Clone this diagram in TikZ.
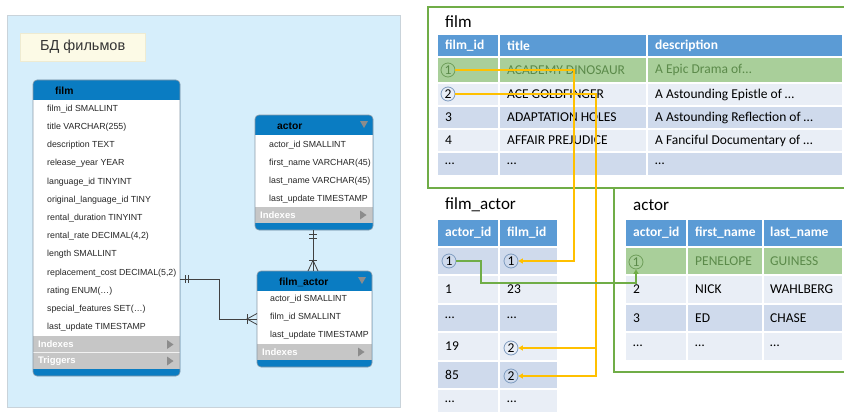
\documentclass[tikz,border=0pt]{standalone}
\usepackage{fontspec}
\setmainfont{Liberation Sans}
\newfontfamily\calfont{Carlito}
\usetikzlibrary{arrows.meta}
\definecolor{panelbg}{HTML}{D6EEFB}
\definecolor{panelline}{HTML}{C9D3DA}
\definecolor{cream}{HTML}{FCFAE6}
\definecolor{creamline}{HTML}{EEEBD2}
\definecolor{wbblue}{HTML}{0A7CC2}
\definecolor{wbgray}{HTML}{C6C6C6}
\definecolor{wbedge}{HTML}{8A9AA8}
\definecolor{tri}{HTML}{8C8C8C}
\definecolor{frameg}{HTML}{70AD47}
\definecolor{hdrblue}{HTML}{5B9BD5}
\definecolor{rowdark}{HTML}{CFDAEC}
\definecolor{rowlight}{HTML}{E9EEF6}
\definecolor{rowgreen}{HTML}{A9CF9A}
\definecolor{txtgreen}{HTML}{5B8A4A}
\definecolor{ygold}{HTML}{FFC000}
\definecolor{circblue}{HTML}{7F9CC0}
\definecolor{circgreen}{HTML}{6E9E5A}
\begin{document}
\begin{tikzpicture}[x=1pt,y=-1pt,
 wbtxt/.style={anchor=west,inner sep=0pt,font=\fontsize{8.8}{10}\selectfont,text=black!85},
 wbhdr/.style={anchor=west,inner sep=0pt,font=\bfseries\fontsize{10.3}{12}\selectfont,text=black},
 wbidx/.style={anchor=west,inner sep=0pt,font=\bfseries\fontsize{9.5}{11}\selectfont,text=white},
 rtxt/.style={anchor=west,inner sep=0pt,font=\calfont\fontsize{13.5}{16}\selectfont,text=black},
 rgtxt/.style={rtxt,text=txtgreen},
 rhdr/.style={anchor=west,inner sep=0pt,font=\calfont\bfseries\fontsize{13.5}{16}\selectfont,text=white},
 rtitle/.style={anchor=west,inner sep=0pt,font=\calfont\fontsize{17}{20}\selectfont},
 circnum/.style={circle,draw=circblue,line width=0.8pt,inner sep=0pt,minimum size=14pt,font=\calfont\fontsize{13.5}{14}\selectfont},
 circg/.style={circnum,draw=circgreen,text=txtgreen},
 yline/.style={draw=ygold,line width=1.1pt},
 gline/.style={draw=frameg,line width=1.3pt},
 tipy/.style={-{Triangle[length=4.5pt,width=5pt]}},
 crow/.style={draw=black!75,line width=0.8pt},
 sep/.style={draw=white,line width=1.5pt},
 frame/.style={draw=frameg,line width=2pt}]
\useasboundingbox (0,0) rectangle (844,412);
\fill[white] (0,0) rectangle (844,412);

% ---------------- left panel ----------------
\node[draw=panelline,fill=panelbg,line width=0.8pt,minimum width=393pt,minimum height=392pt,anchor=north west,inner sep=0pt] (panel) at (7,15) {};
\node[draw=creamline,fill=cream,minimum width=125pt,minimum height=28pt,anchor=north west,inner sep=0pt,font=\fontsize{14.5}{16}\selectfont,text=black!80] (dbtitle) at (20,33) {БД фильмов};

% film table
\fill[wbblue,rounded corners=4pt] (33,80) rectangle (180,376);
\fill[white] (33,100) rectangle (180,336);
\fill[wbgray] (33,336) rectangle (180,369);
\draw[white!75!wbgray] (33,352.5) -- (180,352.5);
\draw[wbedge,line width=0.6pt,rounded corners=4pt] (33,80) rectangle (180,376);
\node[wbhdr] (filmH) at (55,90.5) {film};
\foreach \t [count=\i] in {{film\_id SMALLINT}, {title VARCHAR(255)}, {description TEXT}, {release\_year YEAR}, {language\_id TINYINT}, {original\_language\_id TINY}, {rental\_duration TINYINT}, {rental\_rate DECIMAL(4,2)}, {length SMALLINT}, {replacement\_cost DECIMAL(5,2)}, {rating ENUM(\ldots)}, {special\_features SET(\ldots)}, {last\_update TIMESTAMP}}
  \node[wbtxt] (f\i) at (47,{109+18.2*(\i-1)}) {\t};
\node[wbidx] (filmIdx) at (38,344.5) {Indexes};
\node[wbidx] (filmTrg) at (38,361) {Triggers};
\fill[tri] (167,340) -- (173.5,344.5) -- (167,349) -- cycle;
\fill[tri] (167,356.5) -- (173.5,361) -- (167,365.5) -- cycle;

% actor table
\fill[wbblue,rounded corners=4pt] (255,115) rectangle (373,230);
\fill[white] (255,135) rectangle (373,207);
\fill[wbgray] (255,207) rectangle (373,223);
\draw[wbedge,line width=0.6pt,rounded corners=4pt] (255,115) rectangle (373,230);
\node[wbhdr] (actorH) at (277,126) {actor};
\fill[tri] (360,121) -- (368,121) -- (364,128) -- cycle;
\foreach \t [count=\i] in {{actor\_id SMALLINT}, {first\_name VARCHAR(45)}, {last\_name VARCHAR(45)}, {last\_update TIMESTAMP}}
  \node[wbtxt] (a\i) at (269,{145+18*(\i-1)}) {\t};
\node[wbidx] (actorIdx) at (260,215) {Indexes};
\fill[tri] (360,210.5) -- (366.5,215) -- (360,219.5) -- cycle;

% film_actor table
\fill[wbblue,rounded corners=4pt] (257,271) rectangle (372,367);
\fill[white] (257,291) rectangle (372,344);
\fill[wbgray] (257,344) rectangle (372,360);
\draw[wbedge,line width=0.6pt,rounded corners=4pt] (257,271) rectangle (372,367);
\node[wbhdr] (faH) at (279,282) {film\_actor};
\fill[tri] (358,277) -- (366,277) -- (362,284) -- cycle;
\foreach \t [count=\i] in {{actor\_id SMALLINT}, {film\_id SMALLINT}, {last\_update TIMESTAMP}}
  \node[wbtxt] (fa\i) at (270,{299+18.3*(\i-1)}) {\t};
\node[wbidx] (faIdx) at (262,352) {Indexes};
\fill[tri] (358,347.5) -- (364.5,352) -- (358,356.5) -- cycle;

% relationships (left)
\coordinate (r1a) at (180,279);
\coordinate (r1m) at (219,279);
\coordinate (r1b) at (257,319);
\draw[crow] (r1a) -- (r1m) |- (r1b);
\draw[crow] (185,275) -- (185,283) (188.5,275) -- (188.5,283);
\draw[crow] (247,314) -- (247,324);
\draw[crow] (257,313.5) -- (247,319) -- (257,324.5);

\coordinate (r2a) at (313,230);
\coordinate (r2b) at (313,271);
\draw[crow] (r2a) -- (r2b);
\draw[crow] (309,234) -- (317,234) (309,238) -- (317,238);
\draw[crow] (309,260) -- (317,260);
\draw[crow] (308,271) -- (313,260.5) -- (318,271);

% ---------------- right panel ----------------
\draw[frame] (428,7) rectangle (860,188);
\draw[frame] (614,188) -- (614,372) -- (860,372);

% film table
\node[rtitle] (filmT) at (445,22) {film};
\fill[hdrblue] (438,35) rectangle (842,57);
\fill[rowgreen] (438,57) rectangle (842,83);
\fill[rowlight] (438,83) rectangle (842,106);
\fill[rowdark] (438,106) rectangle (842,129);
\fill[rowlight] (438,129) rectangle (842,152);
\fill[rowdark] (438,152) rectangle (842,175);
\draw[sep] (499,35) -- (499,175) (647,35) -- (647,175);
\draw[sep] (438,57) -- (842,57) (438,83) -- (842,83) (438,106) -- (842,106) (438,129) -- (842,129) (438,152) -- (842,152);
\node[rhdr] (fh1) at (445,46) {film\_id};
\node[rhdr] (fh2) at (507,46) {title};
\node[rhdr] (fh3) at (655,46) {description};
\node[circg] (fc1) at (448,70) {1};
\node[rgtxt] (ft1) at (507,70) {ACADEMY DINOSAUR};
\node[rgtxt] (fd1) at (655,70) {A Epic Drama of…};
\node[circnum] (fc2) at (448,94) {2};
\node[rtxt] (ft2) at (507,94.5) {ACE GOLDFINGER};
\node[rtxt] (fd2) at (655,94.5) {A Astounding Epistle of …};
\node[rtxt] (fi3) at (445,117.5) {3};
\node[rtxt] (ft3) at (507,117.5) {ADAPTATION HOLES};
\node[rtxt] (fd3) at (655,117.5) {A Astounding Reflection of …};
\node[rtxt] (fi4) at (445,140.5) {4};
\node[rtxt] (ft4) at (507,140.5) {AFFAIR PREJUDICE};
\node[rtxt] (fd4) at (655,140.5) {A Fanciful Documentary of …};
\node[rtxt] (fi5) at (445,163.5) {…};
\node[rtxt] (ft5) at (507,163.5) {…};
\node[rtxt] (fd5) at (655,163.5) {…};

% film_actor table
\node[rtitle] (faT) at (445,205) {film\_actor};
\fill[hdrblue] (438,220) rectangle (557,247);
\fill[rowdark] (438,247) rectangle (557,275);
\fill[rowlight] (438,275) rectangle (557,304);
\fill[rowdark] (438,304) rectangle (557,332);
\fill[rowlight] (438,332) rectangle (557,361);
\fill[rowdark] (438,361) rectangle (557,389);
\fill[rowlight] (438,389) rectangle (557,414);
\draw[sep] (499,220) -- (499,414);
\draw[sep] (438,247) -- (557,247) (438,275) -- (557,275) (438,304) -- (557,304) (438,332) -- (557,332) (438,361) -- (557,361) (438,389) -- (557,389);
\node[rhdr] (fah1) at (445,233) {actor\_id};
\node[rhdr] (fah2) at (507,233) {film\_id};
\node[circnum] (faa1) at (449,261) {1};
\node[circnum] (fab1) at (511,261) {1};
\node[rtxt] (faa2) at (445,289.5) {1};
\node[rtxt] (fab2t) at (507,289.5) {23};
\node[rtxt] (faa3) at (445,318) {…};
\node[rtxt] (fab3t) at (507,318) {…};
\node[rtxt] (faa4) at (445,346.5) {19};
\node[circnum] (fab2) at (511,348) {2};
\node[rtxt] (faa5) at (445,375) {85};
\node[circnum] (fab3) at (511,376) {2};
\node[rtxt] (faa6) at (445,402) {…};
\node[rtxt] (fab6t) at (507,402) {…};

% actor table
\node[rtitle] (acT) at (633,205) {actor};
\fill[hdrblue] (626,220) rectangle (842,247);
\fill[rowgreen] (626,247) rectangle (842,275);
\fill[rowlight] (626,275) rectangle (842,304);
\fill[rowdark] (626,304) rectangle (842,332);
\fill[rowlight] (626,332) rectangle (842,360);
\draw[sep] (687,220) -- (687,360) (763,220) -- (763,360);
\draw[sep] (626,247) -- (842,247) (626,275) -- (842,275) (626,304) -- (842,304) (626,332) -- (842,332);
\node[rhdr] (ach1) at (633,233) {actor\_id};
\node[rhdr] (ach2) at (695,233) {first\_name};
\node[rhdr] (ach3) at (770,233) {last\_name};
\node[circg] (ac1) at (636,262) {1};
\node[rgtxt] (acf1) at (695,261) {PENELOPE};
\node[rgtxt] (acl1) at (770,261) {GUINESS};
\node[rtxt] (aci2) at (633,289.5) {2};
\node[rtxt] (acf2) at (695,289.5) {NICK};
\node[rtxt] (acl2) at (770,289.5) {WAHLBERG};
\node[rtxt] (aci3) at (633,318) {3};
\node[rtxt] (acf3) at (695,318) {ED};
\node[rtxt] (acl3) at (770,318) {CHASE};
\node[rtxt] (aci4) at (633,346) {…};
\node[rtxt] (acf4) at (695,346) {…};
\node[rtxt] (acl4) at (770,346) {…};

% links (right)
\coordinate (yx1) at (574,0);
\coordinate (yx2) at (596,0);
\draw[yline,tipy] (fc1.east) -- (fc1.east -| yx1) |- (fab1.east);
\draw[yline,tipy] (fc2.east) -- (fc2.east -| yx2) |- (fab3.east);
\draw[yline,tipy] (fab2.east -| yx2) -- (fab2.east);
\coordinate (gk) at (481,283);
\draw[gline,tipy] (faa1.east) -| (gk) -| (ac1.south);
\end{tikzpicture}
\end{document}
